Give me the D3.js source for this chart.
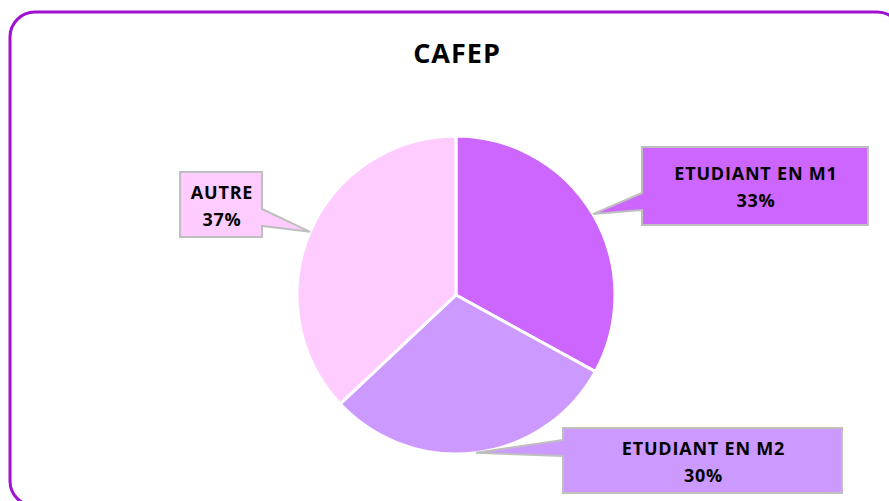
<!DOCTYPE html>
<html>
<head>
    <meta charset="utf-8">
    <title>CAFEP</title>
    <script src="https://cdn.jsdelivr.net/npm/d3@7"></script>
    <style>
        * {
            margin: 0;
            padding: 0;
        }

        body {
            background: #ffffff;
            overflow: hidden;
        }

        #chart {
            width: 889px;
            height: 501px;
        }
    </style>
</head>
<body>
    <div id="chart"></div>

    <script>
        // data
        var categories = ["ETUDIANT EN M1", "ETUDIANT EN M2", "AUTRE"];
        var shares = [33, 30, 37];
        var sliceColors = ["#cc66ff", "#cc99ff", "#ffccff"];

        // label boxes (layout only), wedge on one side between b0 and b1
        var labelBoxes = [
            { x: 642, y: 147, w: 226, h: 78, side: "left", b0: 193, b1: 210 },
            { x: 563, y: 428, w: 279, h: 65, side: "left", b0: 440, b1: 456 },
            { x: 180, y: 172, w: 82, h: 65, side: "right", b0: 209, b1: 226 }
        ];

        var width = 889, height = 501;
        var cx = 456, cy = 295, radius = 159;

        var svg = d3.select("#chart")
            .append("svg")
            .attr("width", width)
            .attr("height", height);

        // frame
        svg.append("rect")
            .attr("x", 10)
            .attr("y", 12)
            .attr("width", 892)
            .attr("height", 494)
            .attr("rx", 25)
            .attr("ry", 25)
            .attr("fill", "#ffffff")
            .attr("stroke", "#a010d2")
            .attr("stroke-width", 3);

        svg.append("text")
            .attr("x", cx + 1)
            .attr("y", 63)
            .attr("text-anchor", "middle")
            .style("font-family", "'Open Sans', sans-serif")
            .style("font-weight", "bold")
            .style("font-size", "27px")
            .style("letter-spacing", "1px")
            .attr("fill", "#000000")
            .text("CAFEP");

        var pie = d3.pie().sort(null).value(function (d) { return d; });
        var arcs = pie(shares);

        var arc = d3.arc().innerRadius(0).outerRadius(radius);
        var edge = d3.arc().innerRadius(radius).outerRadius(radius);

        var g = svg.append("g")
            .attr("transform", "translate(" + cx + "," + cy + ")");

        g.selectAll("path")
            .data(arcs)
            .enter()
            .append("path")
            .attr("d", arc)
            .attr("fill", function (d, i) { return sliceColors[i]; })
            .attr("stroke", "#ffffff")
            .attr("stroke-width", 3)
            .attr("stroke-linejoin", "round");

        // callouts
        function calloutPath(b, tip) {
            var x0 = b.x, y0 = b.y, x1 = b.x + b.w, y1 = b.y + b.h;
            var p = [];
            if (b.side == "left") {
                p = [[x0, y0], [x1, y0], [x1, y1], [x0, y1], [x0, b.b1], tip, [x0, b.b0]];
            } else {
                p = [[x0, y0], [x1, y0], [x1, b.b0], tip, [x1, b.b1], [x1, y1], [x0, y1]];
            }
            return "M" + p.map(function (q) { return q[0] + "," + q[1]; }).join("L") + "Z";
        }

        var labels = svg.append("g");

        arcs.forEach(function (d, i) {
            var c = edge.centroid(d);
            var tip = [cx + c[0], cy + c[1]];
            var b = labelBoxes[i];

            labels.append("path")
                .attr("d", calloutPath(b, tip))
                .attr("fill", sliceColors[i])
                .attr("stroke", "#bfbfbf")
                .attr("stroke-width", 2)
                .attr("stroke-linejoin", "miter");

            var t = labels.append("text")
                .attr("text-anchor", "middle")
                .style("font-family", "'Open Sans', sans-serif")
                .style("font-weight", "bold")
                .style("font-size", "18px")
                .style("letter-spacing", "0.8px")
                .attr("fill", "#000000");

            t.append("tspan")
                .attr("x", b.x + b.w / 2 + 1)
                .attr("y", b.y + b.h / 2 - 6)
                .text(categories[i]);

            t.append("tspan")
                .attr("x", b.x + b.w / 2 + 1)
                .attr("y", b.y + b.h / 2 + 21)
                .text(d3.format(".0f")(shares[i]) + "%");
        });
    </script>
</body>
</html>
